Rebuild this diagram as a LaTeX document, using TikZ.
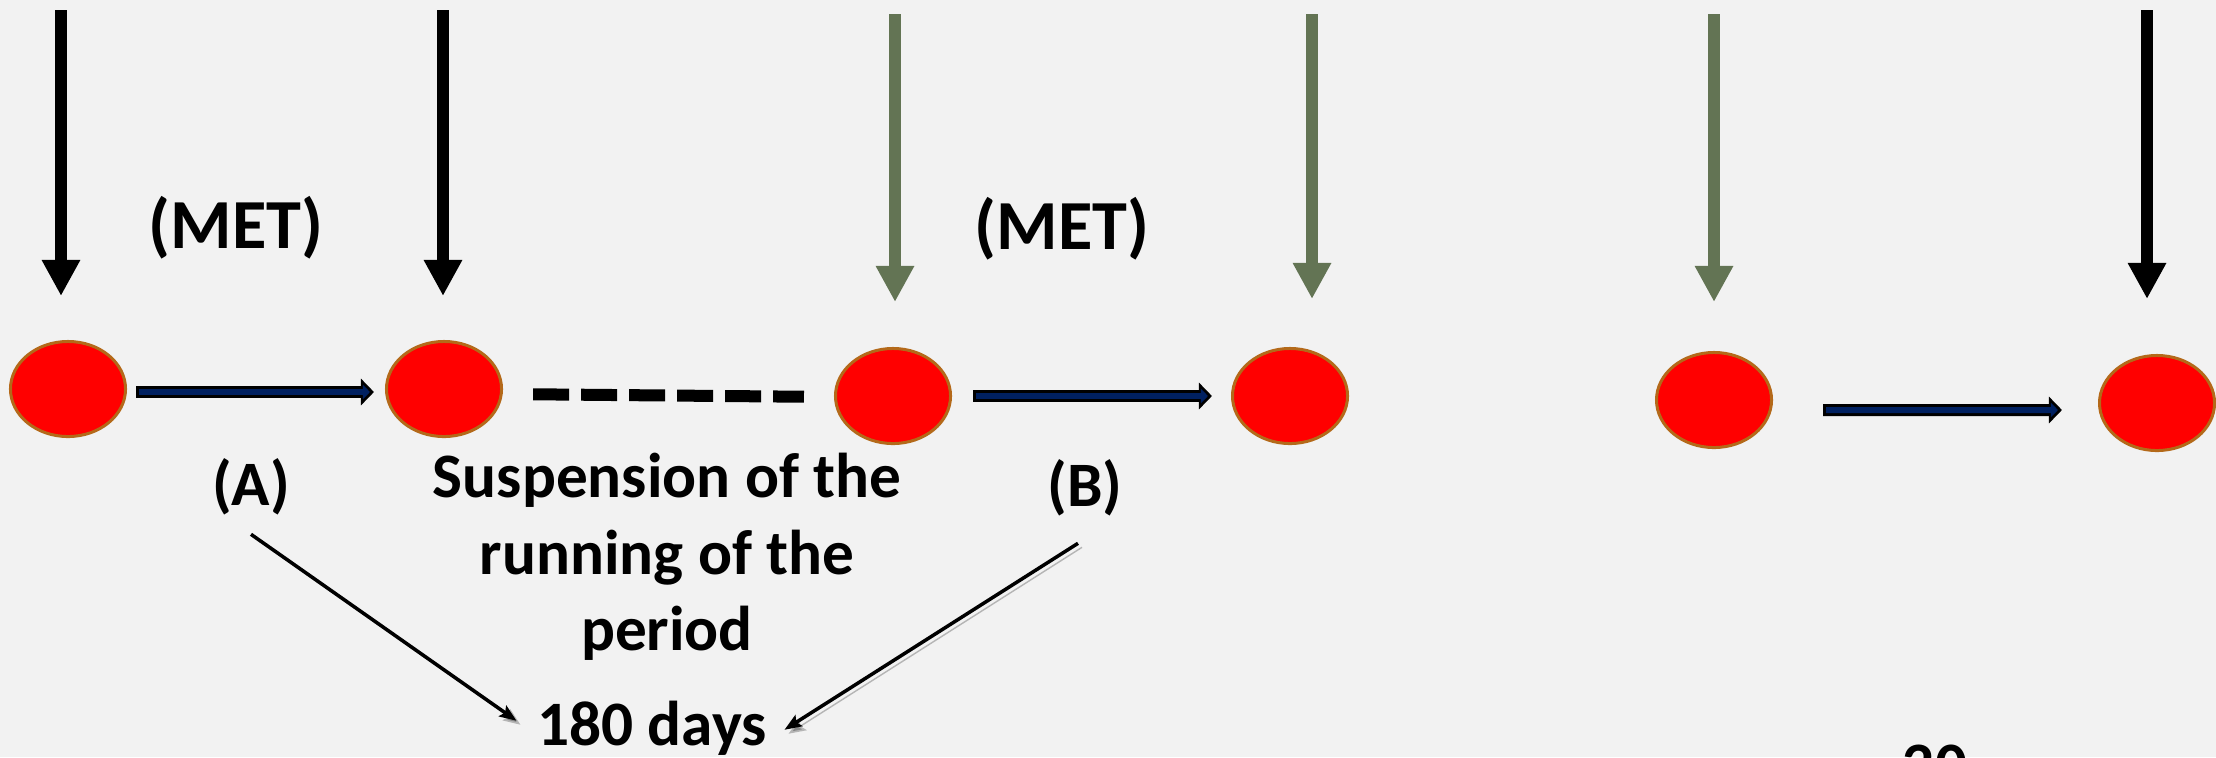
\documentclass[tikz,border=0pt]{standalone}
\usepackage{fontspec}
\setmainfont{Carlito}
\usetikzlibrary{arrows.meta, shapes.geometric}

\definecolor{slidegray}{RGB}{242,242,242}
\definecolor{dotred}{RGB}{255,0,0}
\definecolor{dotrim}{RGB}{180,105,25}
\definecolor{moss}{RGB}{99,116,84}
\definecolor{deepnavy}{RGB}{0,32,96}

\begin{document}
\begin{tikzpicture}[%
        x = 0.01cm,
        y = -0.01cm,
        dot/.style = {%
            ellipse, fill = dotred, draw = dotrim, line width = 0.03cm,
            minimum width = 1.15cm, minimum height = 0.95cm, inner sep = 0pt
        },
        lbl/.style = {font = \bfseries\fontsize{18}{21.7}\selectfont, inner sep = 0pt},
        met/.style = {font = \bfseries\fontsize{20}{24}\selectfont, inner sep = 0pt, anchor = base},
        droparrow/.style = {%
            line width = 0.12cm,
            -{Triangle[width = 0.36cm, length = 0.36cm]},
            shorten > = #1
        },
        droparrow/.default = 0.48cm,
        runarrow/.style 2 args = {%
            draw = deepnavy, line width = 0.06cm,
            shorten < = #1 + 0.03cm, shorten > = #2,
            -{Triangle[width = 0.14cm, length = 0.07cm, sep = 0.04cm]},
            preaction = {%
                draw = black, line width = 0.12cm,
                shorten < = #1, shorten > = #2,
                -{Triangle[width = 0.26cm, length = 0.13cm]}
            }
        },
        dashline/.style = {line width = 0.12cm, dash pattern = on 0.36cm off 0.12cm},
        pointer/.style = {%
            line width = 1pt,
            -{Stealth[length = 0.17cm, width = 0.13cm, inset = 0.03cm]},
            preaction = {%
                draw = black, opacity = 0.25,
                transform canvas = {shift = {(0.04cm, -0.04cm)}}
            }
        }
    ]

        % Slide background, which also fixes the size of the page.
        \path[use as bounding box, fill = slidegray] (0, 0) rectangle (2216, 757);

        % The red dots along the time line.
        \node[dot] (e1) at (68, 389) {};
        \node[dot] (e2) at (444, 389) {};
        \node[dot] (e3) at (893, 396) {};
        \node[dot] (e4) at (1290, 396) {};
        \node[dot] (e5) at (1714, 400) {};
        \node[dot] (e6) at (2157, 403) {};

        % Add all of the labels.
        \node[met] (met1) at (236, 248) {(MET)};
        \node[met] (met2) at (1062, 249) {(MET)};
        \node[lbl, anchor = base] (lblA) at (251, 505) {(A)};
        \node[lbl, anchor = base] (lblB) at (1085, 506) {(B)};
        \node[lbl, align = center] (halt) at (667, 557) {Suspension of the\\running of the\\period};
        \node[lbl, anchor = base] (days) at (652, 745) {180 days};
        \node[lbl, anchor = base] (slide) at (1935, 786) {20};

        % Tops of the arrows coming down onto the dots.
        \coordinate (t1) at (61, 10);
        \coordinate (t2) at (443, 10);
        \coordinate (t3) at (895, 14);
        \coordinate (t4) at (1312, 14);
        \coordinate (t5) at (1714, 14);
        \coordinate (t6) at (2147, 10);

        \draw[droparrow = 0.44cm] (t1) -- (t1 |- e1.north);
        \draw[droparrow = 0.44cm] (t2) -- (t2 |- e2.north);
        \draw[droparrow = 0.45cm, moss] (t3) -- (t3 |- e3.north);
        \draw[droparrow = 0.48cm, moss] (t4) -- (t4 |- e4.north);
        \draw[droparrow = 0.49cm, moss] (t5) -- (t5 |- e5.north);
        \draw[droparrow = 0.55cm] (t6) -- (t6 |- e6.north);

        % Running periods, and the dashed gap where the period is suspended.
        \draw[runarrow = {0.09cm}{0.11cm}] ([yshift = -0.03cm]e1.east) -- ([yshift = -0.03cm]e2.west);
        \draw[runarrow = {0.21cm}{0.19cm}] (e3.east) -- (e4.west);
        \draw[runarrow = {0.50cm}{0.36cm}] ([yshift = -0.10cm]e5.east) -- ([yshift = -0.07cm]e6.west);
        \draw[dashline, shorten < = 0.30cm, shorten > = 0.30cm] ([yshift = -0.05cm]e2.east) -- ([yshift = -0.01cm]e3.west);

        % And lastly, the two periods that add up.
        \draw[pointer] ([yshift = -0.19cm]lblA.south) -- ([xshift = -0.2cm, yshift = 0.07cm]days.west);
        \draw[pointer] ([xshift = -0.07cm, yshift = -0.27cm]lblB.south) -- ([xshift = 0.17cm, yshift = -0.02cm]days.east);
    \end{tikzpicture}
\end{document}
